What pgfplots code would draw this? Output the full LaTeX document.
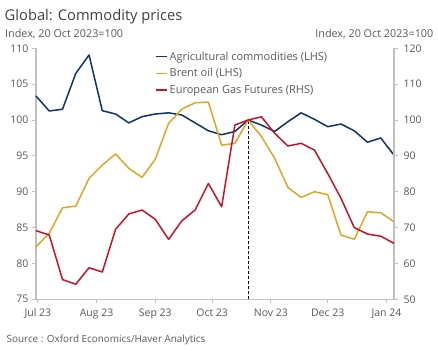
\documentclass[border=0pt]{standalone}
\usepackage{fontspec}
\setmainfont{Open Sans}
\usepackage{pgfplots}
\pgfplotsset{compat=1.18}
\definecolor{agri}{RGB}{14,52,104}
\definecolor{brent}{RGB}{222,165,40}
\definecolor{gas}{RGB}{200,18,40}
\definecolor{axgray}{RGB}{191,191,191}
\definecolor{txt}{RGB}{89,89,89}
\definecolor{ttl}{RGB}{64,64,64}
\begin{document}
\begin{tikzpicture}[x=1pt,y=1pt]
\path[use as bounding box] (0,0) rectangle (438,350);
\pgfplotsset{
  common/.style={
    scale only axis, width=358pt, height=251pt,
    at={(36pt,50.7pt)}, anchor=south west,
    xmin=-1, xmax=188,
    axis line style={axgray, line width=1.2pt},
    major tick style={axgray, line width=1pt},
    major tick length=4pt,
    tick align=outside,
    ticklabel style={font=\fontsize{10.5}{12}\selectfont, text=txt},
    /pgf/number format/assume math mode=true,
    every axis plot/.append style={line width=1.5pt, line join=round},
    clip=false,
  }
}
\begin{axis}[common,
  axis x line*=bottom, axis y line*=left,
  ymin=75, ymax=110, ytick={75,80,...,110},
  xtick={0,31,62,92,123,153,184},
  xticklabels={Jul 23,Aug 23,Sep 23,Oct 23,Nov 23,Dec 23,Jan 24},
  xticklabel style={yshift=-2pt},
]
\addplot[black, line width=1pt, dash pattern=on 3pt off 2pt] coordinates {(111,75) (111,100)};
\addplot[agri] table[x expr=-1+7*\coordindex, y index=0] {
103.35
101.26
101.5
106.5
109.07
101.3
100.84
99.6
100.47
100.84
101.0
100.7
99.6
98.5
97.95
98.4
100
99.3
98.4
99.77
101.0
100.1
99.07
99.44
98.5
96.9
97.5
95.1
};
\addplot[brent] table[x expr=-1+7*\coordindex, y index=0] {
82.33
84.2
87.77
88.0
91.87
93.72
95.26
93.26
92.0
94.56
99.53
101.53
102.4
102.5
96.5
96.74
100
97.7
94.65
90.6
89.2
90.0
89.6
83.96
83.36
87.2
87.07
85.8
};
\end{axis}
\begin{axis}[common,
  axis x line=none, axis y line*=right,
  ymin=50, ymax=120, ytick={50,60,...,120},
  yticklabel style={xshift=2pt},
  legend style={at={(0.332,0.995)}, anchor=north west, draw=none, fill=none,
    font=\fontsize{11}{13}\selectfont, text=txt, row sep=3pt,
    inner sep=0pt},
  legend cell align=left,
  legend image code/.code={\draw[#1, line width=1.6pt] (0pt,0pt) -- (11pt,0pt);},
]
\addlegendimage{agri, line width=1.6pt}
\addlegendentry{Agricultural commodities (LHS)}
\addlegendimage{brent, line width=1.6pt}
\addlegendentry{Brent oil (LHS)}
\addplot[gas] table[x expr=-1+7*\coordindex, y index=0] {
69.13
67.93
55.5
54.2
58.8
57.6
69.5
73.8
74.9
72.3
66.7
71.9
74.9
82.3
75.8
98.6
100
100.9
96.3
92.75
93.5
91.6
85.1
78.2
70.0
68.2
67.6
65.6
};
\addlegendentry{European Gas Futures (RHS)}
\end{axis}
\node[anchor=base west, font=\fontsize{14.7}{17}\selectfont, text=ttl, inner sep=0pt] at (4.5,329.3) {Global: Commodity prices};
\node[anchor=base west, font=\fontsize{10.8}{12}\selectfont, text=txt, inner sep=0pt] at (5,312.7) {Index, 20 Oct 2023=100};
\node[anchor=base east, font=\fontsize{10.8}{12}\selectfont, text=txt, inner sep=0pt] at (433.5,312.7) {Index, 20 Oct 2023=100};
\node[anchor=base west, font=\fontsize{9.9}{11}\selectfont, text=txt, inner sep=0pt] at (6.5,7.3) {Source : Oxford Economics/Haver Analytics};
\end{tikzpicture}
\end{document}
